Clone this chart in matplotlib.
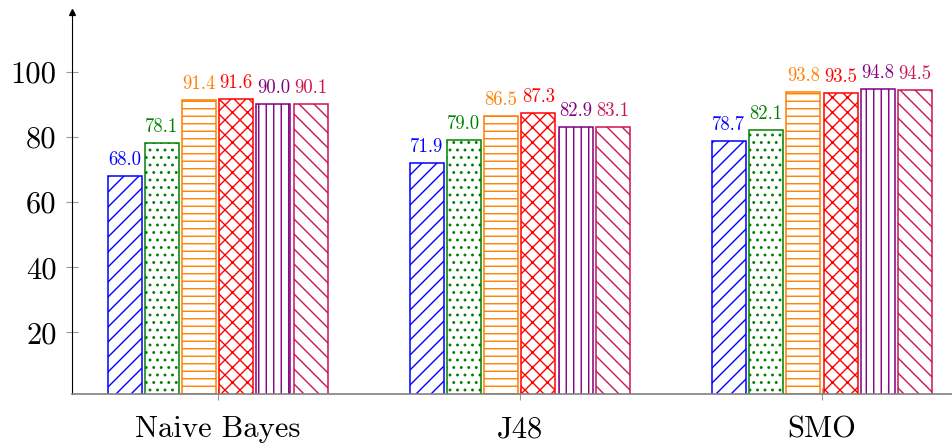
import matplotlib
matplotlib.use('Agg')
import matplotlib.pyplot as plt
import numpy as np

# hatch spacing follows the dpi, so draw at 90 dpi and scale point sizes
DPI = 90
S = 100.0 / DPI

plt.rcParams['font.family'] = ['cmr10', 'DejaVu Serif']
plt.rcParams['axes.formatter.use_mathtext'] = True
plt.rcParams['hatch.linewidth'] = 1.0 * S

classifiers = ['Naive Bayes', 'J48', 'SMO']
series_1 = [68.0, 71.9, 78.7]
series_2 = [78.1, 79.0, 82.1]
series_3 = [91.4, 86.5, 93.8]
series_4 = [91.6, 87.3, 93.5]
series_5 = [90.0, 82.9, 94.8]
series_6 = [90.1, 83.1, 94.5]
yticks = [20, 40, 60, 80, 100]

all_series = [series_1, series_2, series_3, series_4, series_5, series_6]
colors = ['#0000FF', '#008000', '#FF8000', '#FF0000', '#800080', '#CC1452']
hatches = ['//', '..', '--', 'xx', '||', '\\\\']

fig = plt.figure(figsize=(952 / DPI, 447 / DPI), dpi=DPI)
ax = fig.add_axes([0.0756, 0.118, 0.9244, 0.855])

x = np.arange(len(classifiers))
pitch = 0.1232
width = 0.1126
for i, (vals, col, h) in enumerate(zip(all_series, colors, hatches)):
    pos = x + (i - 2.5) * pitch
    ax.bar(pos, vals, width, facecolor='white', edgecolor=col, hatch=h,
           linewidth=1.1 * S, zorder=2)
    for px, v in zip(pos, vals):
        ax.annotate('%.1f' % v, (px, v), xytext=(0, 5 * S), textcoords='offset points',
                    ha='center', va='bottom', color=col, fontsize=13.5 * S)

ax.set_xlim(-0.482, 2.43)
ax.set_ylim(1, 118.3)
ax.set_xticks(x)
ax.set_xticklabels(classifiers, fontsize=22 * S)
ax.set_yticks(yticks)
ax.set_yticklabels([str(t) for t in yticks], fontsize=22 * S)

ax.spines['top'].set_visible(False)
ax.spines['right'].set_visible(False)
ax.spines['left'].set_color('black')
ax.spines['left'].set_linewidth(0.8 * S)
ax.spines['bottom'].set_color('#808080')
ax.spines['bottom'].set_linewidth(1.2 * S)
ax.tick_params(axis='both', direction='inout', length=8 * S, width=0.8 * S, color='#999999')
ax.tick_params(axis='y', pad=7 * S)
ax.tick_params(axis='x', pad=11 * S)

# arrow on top of the y axis
ax.plot([0], [1], marker='^', color='black', markersize=5 * S, transform=ax.transAxes,
        clip_on=False)

fig.savefig('out.png', dpi=DPI)
